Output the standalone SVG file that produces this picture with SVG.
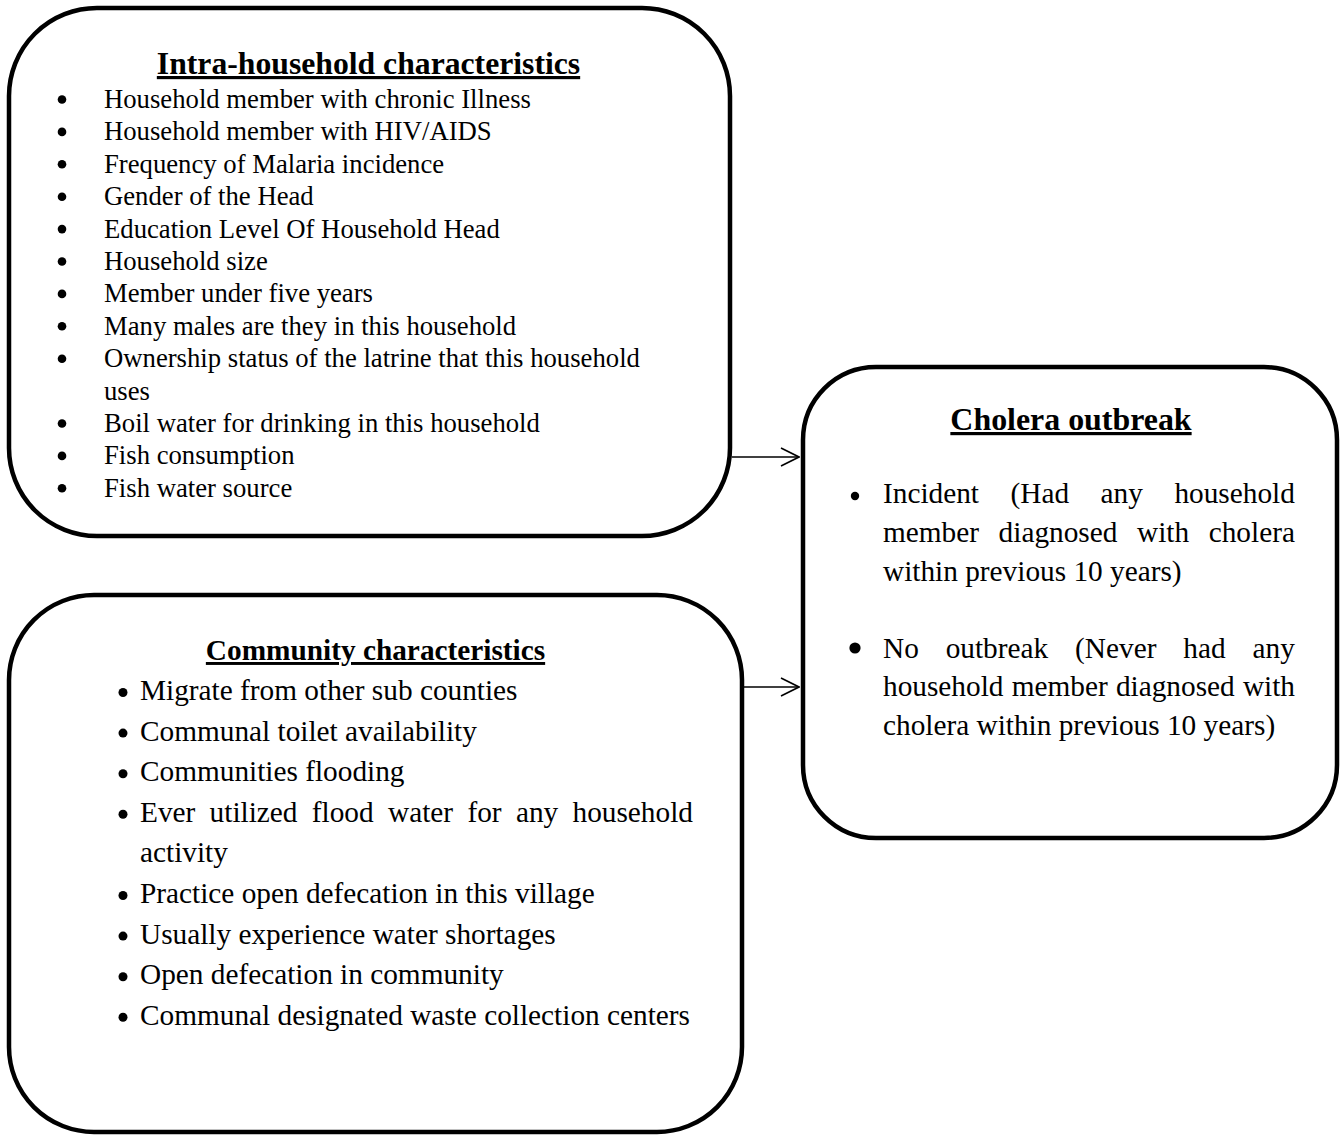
<svg xmlns="http://www.w3.org/2000/svg" width="1340" height="1135" viewBox="0 0 1340 1135">
<style>
.box{fill:#fff;stroke:#000;stroke-width:4.5}
.t{font-family:"Liberation Serif","Times New Roman",serif;fill:#000}
.h{font-weight:bold;text-anchor:middle;text-decoration:underline;text-decoration-thickness:2.6px}
.s1{font-size:26.7px}
.s2{font-size:29.3px}
.conn{stroke:#000;stroke-width:1.6;fill:none}
</style>
<defs>
<marker id="arr" viewBox="0 0 20 20" refX="19" refY="10" markerWidth="20" markerHeight="20" markerUnits="userSpaceOnUse" orient="auto">
<path d="M1,1 L19,10 L1,19" fill="none" stroke="#000" stroke-width="1.6"/>
</marker>
</defs>
<rect width="1340" height="1135" fill="#fff"/>

<g id="intra">
<rect class="box" x="9" y="8" width="721" height="528" rx="88"/>
<text class="t h" x="368.5" y="74" font-size="31.7">Intra-household characteristics</text>
<g fill="#000">
<circle cx="62" cy="99.5" r="4.3"/><circle cx="62" cy="131.9" r="4.3"/><circle cx="62" cy="164.3" r="4.3"/>
<circle cx="62" cy="196.7" r="4.3"/><circle cx="62" cy="229.1" r="4.3"/><circle cx="62" cy="261.5" r="4.3"/>
<circle cx="62" cy="293.9" r="4.3"/><circle cx="62" cy="326.3" r="4.3"/><circle cx="62" cy="358.7" r="4.3"/>
<circle cx="62" cy="423.5" r="4.3"/><circle cx="62" cy="455.9" r="4.3"/><circle cx="62" cy="488.3" r="4.3"/>
</g>
<text class="t s1" x="104">
<tspan x="104" y="108">Household member with chronic Illness</tspan>
<tspan x="104" y="140.4">Household member with HIV/AIDS</tspan>
<tspan x="104" y="172.8">Frequency of Malaria incidence</tspan>
<tspan x="104" y="205.2">Gender of the Head</tspan>
<tspan x="104" y="237.6">Education Level Of Household Head</tspan>
<tspan x="104" y="270">Household size</tspan>
<tspan x="104" y="302.4">Member under five years</tspan>
<tspan x="104" y="334.8">Many males are they in this household</tspan>
<tspan x="104" y="367.2">Ownership status of the latrine that this household</tspan>
<tspan x="104" y="399.6">uses</tspan>
<tspan x="104" y="432">Boil water for drinking in this household</tspan>
<tspan x="104" y="464.4">Fish consumption</tspan>
<tspan x="104" y="496.8">Fish water source</tspan>
</text>
</g>

<g id="community">
<rect class="box" x="9" y="595" width="733" height="537" rx="85"/>
<text class="t h" x="375.5" y="660" font-size="29.3">Community characteristics</text>
<g fill="#000">
<circle cx="123" cy="692.5" r="4.5"/><circle cx="123" cy="733.1" r="4.5"/><circle cx="123" cy="773.7" r="4.5"/>
<circle cx="123" cy="814.3" r="4.5"/><circle cx="123" cy="895.5" r="4.5"/><circle cx="123" cy="936.1" r="4.5"/>
<circle cx="123" cy="976.7" r="4.5"/><circle cx="123" cy="1017.3" r="4.5"/>
</g>
<text class="t s2">
<tspan x="140" y="700">Migrate from other sub counties</tspan>
<tspan x="140" y="740.6">Communal toilet availability</tspan>
<tspan x="140" y="781.2">Communities flooding</tspan>
<tspan x="140" y="821.8">Ever</tspan><tspan x="209.6" y="821.8">utilized</tspan><tspan x="311.8" y="821.8">flood</tspan><tspan x="388" y="821.8">water</tspan><tspan x="467.4" y="821.8">for</tspan><tspan x="515.9" y="821.8">any</tspan><tspan x="572.5" y="821.8">household</tspan>
<tspan x="140" y="862.4">activity</tspan>
<tspan x="140" y="903">Practice open defecation in this village</tspan>
<tspan x="140" y="943.6">Usually experience water shortages</tspan>
<tspan x="140" y="984.2">Open defecation in community</tspan>
<tspan x="140" y="1024.8">Communal designated waste collection centers</tspan>
</text>
</g>

<g id="cholera">
<rect class="box" x="803" y="367" width="534" height="471" rx="73"/>
<text class="t h" x="1071" y="430" font-size="31.9">Cholera outbreak</text>
<circle cx="855" cy="496" r="4.2" fill="#000"/>
<circle cx="855" cy="648" r="5.6" fill="#000"/>
<text class="t s2">
<tspan x="883" y="503">Incident</tspan><tspan x="1010.5" y="503">(Had</tspan><tspan x="1100.6" y="503">any</tspan><tspan x="1174.4" y="503">household</tspan>
<tspan x="883" y="542">member</tspan><tspan x="998.6" y="542">diagnosed</tspan><tspan x="1137" y="542">with</tspan><tspan x="1208.7" y="542">cholera</tspan>
<tspan x="883" y="580.5">within previous 10 years)</tspan>
<tspan x="883" y="657.5">No</tspan><tspan x="945.7" y="657.5">outbreak</tspan><tspan x="1075.1" y="657.5">(Never</tspan><tspan x="1183.3" y="657.5">had</tspan><tspan x="1252.5" y="657.5">any</tspan>
<tspan x="883" y="696">household</tspan><tspan x="1011.7" y="696">member</tspan><tspan x="1115.9" y="696">diagnosed</tspan><tspan x="1242.9" y="696">with</tspan>
<tspan x="883" y="734.5">cholera within previous 10 years)</tspan>
</text>
</g>

<g id="connectors">
<line class="conn" x1="732" y1="457" x2="799" y2="457" marker-end="url(#arr)"/>
<line class="conn" x1="744" y1="687" x2="799" y2="687" marker-end="url(#arr)"/>
</g>
</svg>
